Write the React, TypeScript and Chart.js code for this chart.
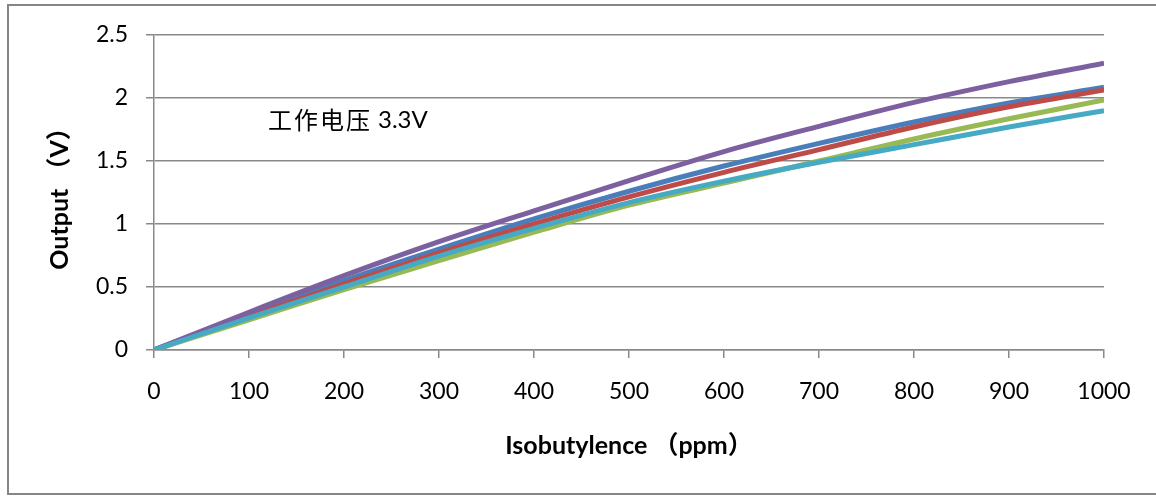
import React, { useEffect, useRef } from "react";
import { Chart, registerables } from "chart.js";

Chart.register(...registerables);

const ppm = [0, 100, 200, 300, 400, 500, 600, 700, 800, 900, 1000];
const seriesBlue = [0, 0.28, 0.55, 0.8, 1.04, 1.26, 1.46, 1.64, 1.81, 1.96, 2.085];
const seriesRed = [0, 0.265, 0.525, 0.77, 1.0, 1.215, 1.41, 1.59, 1.77, 1.93, 2.063];
const seriesGreen = [0, 0.24, 0.48, 0.71, 0.935, 1.15, 1.325, 1.5, 1.675, 1.835, 1.984];
const seriesPurple = [0, 0.3, 0.59, 0.86, 1.105, 1.345, 1.575, 1.775, 1.965, 2.13, 2.277];
const seriesCyan = [0, 0.255, 0.5, 0.745, 0.965, 1.17, 1.34, 1.49, 1.63, 1.77, 1.9];

const xTitle = "Isobutylence （ppm）";
const yTitle = "Output （V）";
const noteCJK = "工作电压";
const noteLatin = "3.3V";
const noteAt = { x: 120, y: 1.83 };

const LATIN = "Lato, 'Noto Sans', 'Noto Sans CJK SC', sans-serif";
const GRID = "#898989";

const toPts = (ys: number[]) => ppm.map((x, i) => ({ x, y: ys[i] }));

export default function App() {
  const ref = useRef<HTMLCanvasElement | null>(null);

  useEffect(() => {
    document.body.style.margin = "0";
    const canvas = ref.current;
    if (!canvas) return;

    const frame = {
      id: "frame",
      beforeDraw(chart: any) {
        const c = chart.ctx;
        c.save();
        c.fillStyle = "#ffffff";
        c.fillRect(0, 0, chart.width, chart.height);
        c.strokeStyle = "#868686";
        c.lineWidth = 2;
        c.strokeRect(8, 5, 1170, 489);
        c.restore();
      },
      afterDraw(chart: any) {
        const c = chart.ctx;
        const px = chart.scales.x.getPixelForValue(noteAt.x);
        const py = chart.scales.y.getPixelForValue(noteAt.y);
        c.save();
        c.fillStyle = "#000000";
        c.textBaseline = "middle";
        c.textAlign = "left";
        c.font = "24px 'Noto Sans CJK SC', sans-serif";
        (c as any).letterSpacing = "2px";
        c.fillText(noteCJK, px, py);
        const w = c.measureText(noteCJK).width;
        (c as any).letterSpacing = "0px";
        c.font = "24px " + LATIN;
        c.fillText(noteLatin, px + w + 6, py + 1);
        c.restore();
      },
    };

    const mk = (label: string, data: number[], color: string, order: number) => ({
      label,
      data: toPts(data),
      borderColor: color,
      backgroundColor: color,
      borderWidth: 5,
      pointRadius: 0,
      cubicInterpolationMode: "monotone" as const,
      fill: false,
      order,
    });

    const chart = new Chart(canvas, {
      type: "line",
      data: {
        datasets: [
          mk("S1", seriesBlue, "#4A7EBB", 4),
          mk("S2", seriesRed, "#BE4B48", 3),
          mk("S3", seriesGreen, "#98B954", 2),
          mk("S4", seriesPurple, "#7D60A0", 1),
          mk("S5", seriesCyan, "#46AAC5", 0),
        ],
      },
      options: {
        responsive: false,
        animation: false,
        devicePixelRatio: 1,
        layout: { padding: { top: 35, right: 52, left: 0, bottom: 0 } },
        plugins: {
          legend: { display: false },
          tooltip: { enabled: false },
        },
        scales: {
          x: {
            type: "linear",
            min: 0,
            max: 1000,
            ticks: {
              stepSize: 100,
              color: "#000000",
              padding: 20,
              maxRotation: 0,
              font: { family: LATIN, size: 23 },
              callback: (v: any) => String(v),
            },
            grid: {
              display: true,
              drawOnChartArea: false,
              drawTicks: true,
              tickLength: 8,
              color: GRID,
              lineWidth: 1.5,
            },
            border: { display: true, color: GRID, width: 1.5 },
            title: {
              display: true,
              text: xTitle,
              color: "#000000",
              font: { family: LATIN, size: 25, weight: "bold" },
              padding: { top: 0, bottom: 35 },
            },
            afterFit(scale: any) {
              scale.height = 146;
            },
          },
          y: {
            type: "linear",
            min: 0,
            max: 2.5,
            ticks: {
              stepSize: 0.5,
              color: "#000000",
              padding: 18,
              font: { family: LATIN, size: 23 },
              callback: (v: any) => String(v),
            },
            grid: {
              display: true,
              drawTicks: true,
              tickLength: 8,
              color: GRID,
              lineWidth: 1.5,
            },
            border: { display: true, color: GRID, width: 1.5 },
            title: {
              display: true,
              text: yTitle,
              color: "#000000",
              font: { family: LATIN, size: 25, weight: "bold" },
              padding: { top: 45, bottom: 0 },
            },
            afterFit(scale: any) {
              scale.width = 154;
            },
          },
        },
      },
      plugins: [frame],
    });

    return () => chart.destroy();
  }, []);

  return (
    <div style={{ width: 1156, height: 496 }}>
      <canvas ref={ref} width={1156} height={496} style={{ display: "block" }} />
    </div>
  );
}
